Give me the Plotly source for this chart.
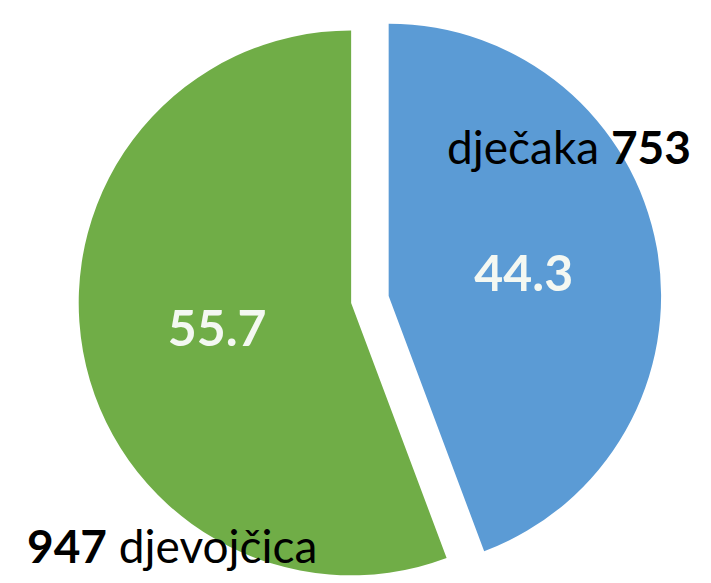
import plotly.graph_objects as go

categories = ["dječaka", "djevojčica"]
counts = [753, 947]
percents = [44.3, 55.7]
colors = ["#5B9BD5", "#70AD47"]

FONT = "Lato, sans-serif"

fig = go.Figure(go.Pie(
    labels=categories,
    values=percents,
    customdata=counts,
    sort=False,
    direction="clockwise",
    rotation=0,
    pull=[0.07, 0.07],
    marker=dict(colors=colors, line=dict(width=0)),
    texttemplate="<b>%{value:.1f}</b>",
    textposition="inside",
    insidetextorientation="horizontal",
    insidetextfont=dict(color="#F4F8F2", size=50, family=FONT),
    showlegend=False,
    hoverinfo="label+value",
    domain=dict(x=[0.099, 0.919], y=[0, 1]),
))

fig.add_annotation(
    x=437 / 711, y=1 - 138 / 583, xref="paper", yref="paper", xanchor="left", yanchor="middle",
    text=f"{categories[0]} <b>{counts[0]}</b>", showarrow=False,
    font=dict(size=46, color="black", family=FONT),
)
fig.add_annotation(
    x=17 / 711, y=1 - 537 / 583, xref="paper", yref="paper", xanchor="left", yanchor="middle",
    text=f"<b>{counts[1]}</b> {categories[1]}", showarrow=False,
    font=dict(size=46, color="black", family=FONT),
)

fig.update_layout(
    width=711, height=583,
    margin=dict(l=0, r=0, t=0, b=0),
    paper_bgcolor="white",
    plot_bgcolor="white",
)

fig.write_html("out.html")
